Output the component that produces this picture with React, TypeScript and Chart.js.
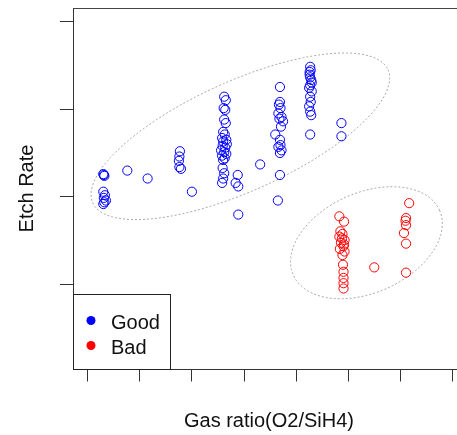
import { useEffect, useRef } from "react";
import { Chart, registerables } from "chart.js";

Chart.register(...registerables);

const categories = ["Good", "Bad"];
const seriesColors = ["#0000FF", "#FF0000"];

const goodX = [
  1.31, 1.32, 1.30, 1.30, 1.33, 1.31, 1.35, 1.30, 1.32, 1.76, 2.15,
  2.77, 2.76, 2.75, 2.76, 2.79, 3.00,
  3.62, 3.65, 3.61, 3.64, 3.62, 3.65, 3.60, 3.63, 3.58, 3.66, 3.60, 3.67, 3.59, 3.64,
  3.56, 3.62, 3.66, 3.58, 3.63, 3.60, 3.59, 3.62, 3.60, 3.58,
  3.88, 3.84, 3.89, 3.89, 4.31,
  4.69, 4.69, 4.67, 4.70, 4.66, 4.72, 4.68, 4.75, 4.71, 4.60, 4.69, 4.70, 4.66, 4.72,
  4.69, 4.69, 4.65,
  5.27, 5.28, 5.26, 5.29, 5.27, 5.25, 5.30, 5.27, 5.28, 5.25, 5.27, 5.29, 5.26, 5.30,
  5.27, 5.27, 5.87, 5.87,
];
const goodY = [
  2.25, 2.24, 2.26, 2.06, 2.02, 1.99, 1.96, 1.92, 1.94, 2.30, 2.21,
  2.52, 2.46, 2.41, 2.34, 2.32, 2.06,
  3.14, 3.10, 3.01, 2.99, 2.88, 2.84, 2.74, 2.71, 2.67, 2.65, 2.63, 2.60, 2.58, 2.56,
  2.53, 2.51, 2.49, 2.47, 2.44, 2.42, 2.33, 2.27, 2.21, 2.16,
  2.25, 2.16, 2.12, 1.80, 2.37,
  3.25, 3.08, 3.05, 3.01, 2.95, 2.91, 2.89, 2.86, 2.80, 2.71, 2.65, 2.59, 2.57, 2.53,
  2.50, 2.25, 1.96,
  3.48, 3.44, 3.39, 3.33, 3.27, 3.24, 3.20, 3.14, 3.08, 3.03, 2.97, 2.93, 3.42, 3.30,
  3.36, 2.71, 2.84, 2.69,
];

const badX = [
  5.83, 5.92, 5.85, 5.89, 5.83, 5.93, 5.86, 5.91, 5.84, 5.93, 5.89, 5.90, 5.91, 5.91,
  5.91, 5.91, 5.88, 5.92, 6.50, 7.17, 7.11, 7.10, 7.11, 7.07, 7.11, 7.11,
];
const badY = [
  1.78, 1.72, 1.61, 1.58, 1.55, 1.51, 1.48, 1.44, 1.41, 1.38, 1.34, 1.23, 1.15, 1.08,
  1.02, 0.96, 1.53, 1.46, 1.20, 1.93, 1.76, 1.73, 1.68, 1.59, 1.47, 1.14,
];

const xTicks = [1, 2, 3, 4, 5, 6, 7, 8];
const yTicks = [1, 2, 3, 4];
const xRange = [0.718, 8.088];
const yRange = [0.045, 4.148];

// group ellipses: centre and two semi-axis vectors, in data units
const ellipseCx = [3.93, 6.35];
const ellipseCy = [2.69, 1.48];
const ellipseAx = [2.833, 1.403];
const ellipseAy = [0.757, 0.369];
const ellipseBx = [0.434, 0.39];
const ellipseBy = [-0.569, -0.519];

const xTitle = "Gas ratio(O2/SiH4)";
const yTitle = "Etch Rate";

const FONT = '20px "Liberation Sans", Arial, sans-serif';

const decorPlugin = {
  id: "decor",
  beforeDatasetsDraw(chart: any) {
    const { ctx, scales } = chart;
    const xs = scales.x;
    const ys = scales.y;
    ctx.save();
    ctx.strokeStyle = "#a8a8a8";
    ctx.lineWidth = 1;
    ctx.setLineDash([2, 2]);
    for (let e = 0; e < ellipseCx.length; e++) {
      ctx.beginPath();
      const n = 160;
      for (let i = 0; i <= n; i++) {
        const t = (i / n) * Math.PI * 2;
        const vx = ellipseCx[e] + ellipseAx[e] * Math.cos(t) + ellipseBx[e] * Math.sin(t);
        const vy = ellipseCy[e] + ellipseAy[e] * Math.cos(t) + ellipseBy[e] * Math.sin(t);
        const px = xs.getPixelForValue(vx);
        const py = ys.getPixelForValue(vy);
        if (i === 0) ctx.moveTo(px, py);
        else ctx.lineTo(px, py);
      }
      ctx.closePath();
      ctx.stroke();
    }
    ctx.restore();
  },
  afterDraw(chart: any) {
    const { ctx, chartArea } = chart;
    const { left, right, top, bottom } = chartArea;
    ctx.save();
    // top frame line
    ctx.strokeStyle = "#444";
    ctx.lineWidth = 1;
    ctx.beginPath();
    ctx.moveTo(left, Math.round(top) + 0.5);
    ctx.lineTo(right, Math.round(top) + 0.5);
    ctx.stroke();

    // legend box
    const bx = Math.round(left) + 0.5;
    const by = Math.round(bottom - 75) + 0.5;
    ctx.strokeStyle = "#222";
    ctx.strokeRect(bx, by, 97, Math.round(bottom) - by + 0.5);
    ctx.font = FONT;
    ctx.textAlign = "left";
    ctx.textBaseline = "alphabetic";
    categories.forEach((c, i) => {
      const cy = by + 26 + i * 25;
      ctx.fillStyle = seriesColors[i];
      ctx.beginPath();
      ctx.arc(left + 18, cy, 4.5, 0, Math.PI * 2);
      ctx.fill();
      ctx.fillStyle = "#111";
      ctx.fillText(c, left + 38, cy + 8.3);
    });

    // axis titles
    ctx.fillStyle = "#111";
    ctx.textAlign = "center";
    ctx.fillText(xTitle, (left + right) / 2 + 4, 426.5);
    ctx.save();
    ctx.translate(33, (top + bottom) / 2);
    ctx.rotate(-Math.PI / 2);
    ctx.fillText(yTitle, 0, 0);
    ctx.restore();
    ctx.restore();
  },
};

export default function App() {
  const ref = useRef<HTMLCanvasElement | null>(null);
  useEffect(() => {
    if (!ref.current) return;
    const toPts = (xs: number[], ys: number[]) => xs.map((x, i) => ({ x, y: ys[i] }));
    const chart = new Chart(ref.current, {
      type: "scatter",
      data: {
        datasets: [
          {
            label: categories[0],
            data: toPts(goodX, goodY),
            borderColor: seriesColors[0],
            backgroundColor: "rgba(0,0,0,0)",
            pointRadius: 4.6,
            borderWidth: 1,
          },
          {
            label: categories[1],
            data: toPts(badX, badY),
            borderColor: seriesColors[1],
            backgroundColor: "rgba(0,0,0,0)",
            pointRadius: 4.6,
            borderWidth: 1,
          },
        ],
      },
      options: {
        animation: false,
        responsive: false,
        maintainAspectRatio: false,
        layout: { autoPadding: false, padding: { top: 8, right: 0, left: 0, bottom: 0 } },
        plugins: { legend: { display: false }, tooltip: { enabled: false } },
        scales: {
          x: {
            type: "linear",
            min: xRange[0],
            max: xRange[1],
            afterBuildTicks: (s: any) => {
              s.ticks = xTicks.map((v) => ({ value: v }));
            },
            afterFit: (s: any) => {
              s.height = 66;
            },
            ticks: { display: false },
            grid: { drawOnChartArea: false, drawTicks: true, tickLength: 12.5, tickColor: "#333", lineWidth: 1 },
            border: { display: true, color: "#333", width: 1 },
          },
          y: {
            type: "linear",
            min: yRange[0],
            max: yRange[1],
            afterBuildTicks: (s: any) => {
              s.ticks = yTicks.map((v) => ({ value: v }));
            },
            afterFit: (s: any) => {
              s.width = 73;
            },
            ticks: { display: false },
            grid: { drawOnChartArea: false, drawTicks: true, tickLength: 13, tickColor: "#333", lineWidth: 1 },
            border: { display: true, color: "#333", width: 1 },
          },
        },
      },
      plugins: [decorPlugin],
    });
    return () => chart.destroy();
  }, []);
  return (
    <div style={{ position: "absolute", left: 0, top: 0, width: 457, height: 435, background: "#fff" }}>
      <canvas ref={ref} width={457} height={435} style={{ display: "block" }} />
    </div>
  );
}
